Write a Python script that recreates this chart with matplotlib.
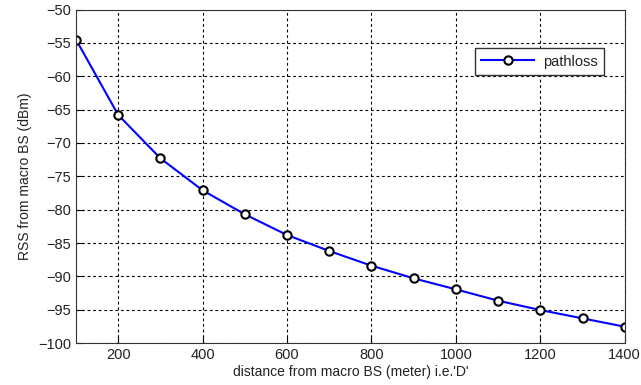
import matplotlib
matplotlib.use("Agg")
import matplotlib.pyplot as plt

distance = [100, 200, 300, 400, 500, 600, 700, 800, 900, 1000, 1100, 1200, 1300, 1400]
rss = [-54.5, -65.8, -72.3, -77.1, -80.7, -83.8, -86.2, -88.4, -90.3, -91.95, -93.65, -95.05, -96.3, -97.55]
xticks = [200, 400, 600, 800, 1000, 1200, 1400]
yticks = [-100, -95, -90, -85, -80, -75, -70, -65, -60, -55, -50]

plt.rcParams['font.family'] = ['Liberation Sans', 'DejaVu Sans']
txt = '#222222'

fig = plt.figure(figsize=(6.41, 3.85), dpi=100)
ax = fig.add_axes([0.1186, 0.109, 0.856, 0.866])
ax.plot(distance, rss, color='#0000ff', linewidth=1.5, marker='o', markersize=6,
        markerfacecolor='white', markeredgecolor='black', markeredgewidth=1.5, label='pathloss')
ax.set_xlim(100, 1400)
ax.set_ylim(-100, -50)
ax.set_xticks(xticks)
ax.set_yticks(yticks)
ax.grid(True, color='black', linestyle=(0, (2.5, 2.5)), linewidth=0.8)
ax.tick_params(direction='in', labelsize=10.5, labelcolor=txt, length=4)
for s in ax.spines.values():
    s.set_color('#333333')
ax.set_xlabel("distance from macro BS (meter) i.e.'D'", fontsize=10, color=txt, labelpad=2)
ax.set_ylabel("RSS from macro BS (dBm)", fontsize=10, color=txt, labelpad=4)
leg = ax.legend(loc='upper right', bbox_to_anchor=(0.962, 0.885), fontsize=10.5, fancybox=False,
                edgecolor='#333333', framealpha=1, handlelength=3.6, borderpad=0.45,
                borderaxespad=0, handletextpad=0.6)
leg.get_frame().set_linewidth(1.0)
for t in leg.get_texts():
    t.set_color(txt)
fig.savefig('out.png', dpi=100)
